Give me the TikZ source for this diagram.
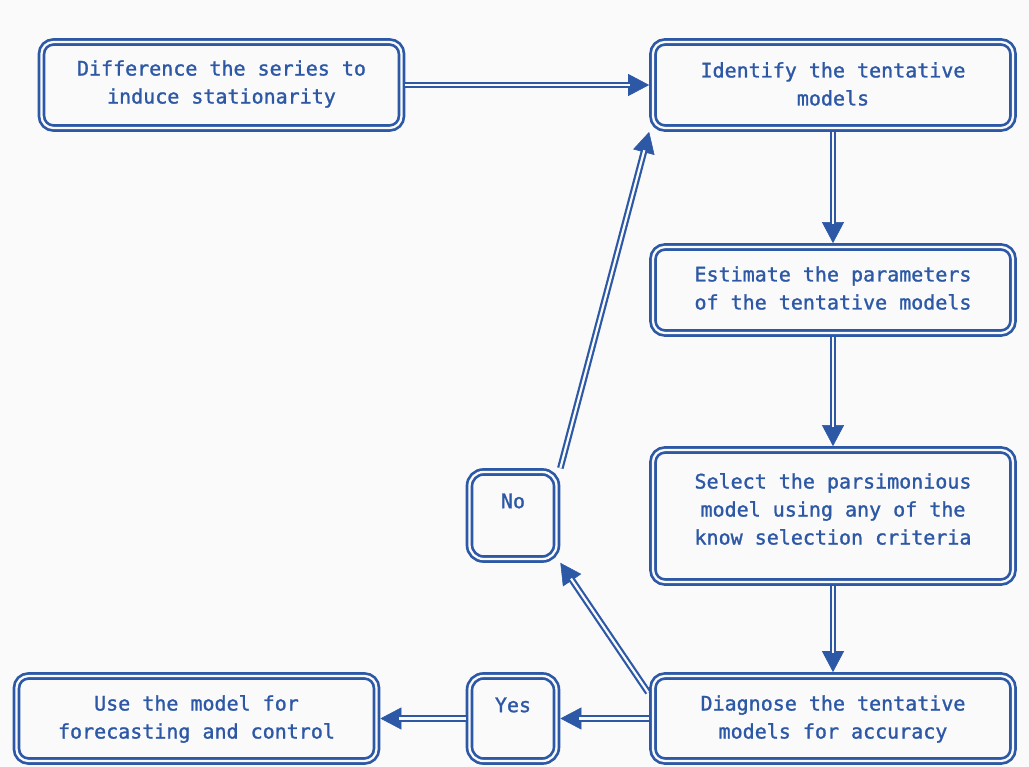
\documentclass[tikz,border=0pt]{standalone}
\usepackage{fontspec}
\setmonofont[BoldFont={DejaVu Sans Mono}, BoldFeatures={FakeBold=1.3}]{DejaVu Sans Mono}
\usetikzlibrary{arrows.meta,calc}
\definecolor{ink}{RGB}{44,88,166}
\definecolor{bg}{RGB}{250,250,251}
\newcommand\dconn[2]{%
  \draw[tipline] #1 -- #2;
  \draw[shaft] #1 -- #2;}
\tikzset{
  box/.style={draw=ink, double=bg, line width=2.7pt, double distance=2.3pt,
    rounded corners=12pt, outer sep=3.85pt, inner sep=0pt,
    minimum width=360pt, minimum height=86pt},
  sbox/.style={box, minimum width=87pt, minimum height=87pt, rounded corners=14pt},
  txt/.style={font=\ttfamily\bfseries\fontsize{20}{28}\selectfont, text=ink, align=center, inner sep=0pt},
  tipline/.style={draw=ink, line width=0.6pt, -{Triangle[length=21pt,width=22pt]}},
  shaft/.style={draw=ink, double=bg, line width=2.2pt, double distance=2.2pt, shorten >=19pt},
}
\begin{document}
\begin{tikzpicture}[x=1pt,y=-1pt]
\useasboundingbox[fill=bg] (0,0) rectangle (1029,767);
% boxes
\node[box] (diff) at (221.5,85) {};
\node[box] (ident) at (833,85) {};
\node[box] (est) at (833,290) {};
\node[box, minimum height=132pt] (sel) at (833,516) {};
\node[box, minimum height=85pt] (diag) at (833,718.5) {};
\node[box, minimum height=85pt] (use) at (196.5,718.5) {};
\node[sbox] (no) at (513,515.5) {};
\node[sbox, minimum height=85pt] (yes) at (513,718.5) {};
% texts
\node[txt] (tdiff) at (221.5,84) {Difference the series to\\induce stationarity};
\node[txt] (tident) at (833,84) {Identify the tentative\\models};
\node[txt] (test) at (833,288) {Estimate the parameters\\of the tentative models};
\node[txt] (tsel) at (833,509) {Select the parsimonious\\model using any of the\\know selection criteria};
\node[txt] (tdiag) at (833,719) {Diagnose the tentative\\models for accuracy};
\node[txt] (tuse) at (196.5,719) {Use the model for\\forecasting and control};
\node[txt] (tno) at (513,501) {No};
\node[txt] (tyes) at (513,705) {Yes};
% connectors
\dconn{(diff.east)}{(ident.west)}
\dconn{(ident.south)}{(est.north)}
\dconn{(est.south)}{(sel.north)}
\dconn{(sel.south)}{(diag.north)}
\dconn{(diag.west)}{(yes.east)}
\dconn{(yes.west)}{(use.east)}
\coordinate (dstart) at ($(diag.west)+(-1,-26)$);
\dconn{(dstart)}{(no.south east)}
\dconn{(no.north east)}{(ident.south west)}
\end{tikzpicture}
\end{document}
